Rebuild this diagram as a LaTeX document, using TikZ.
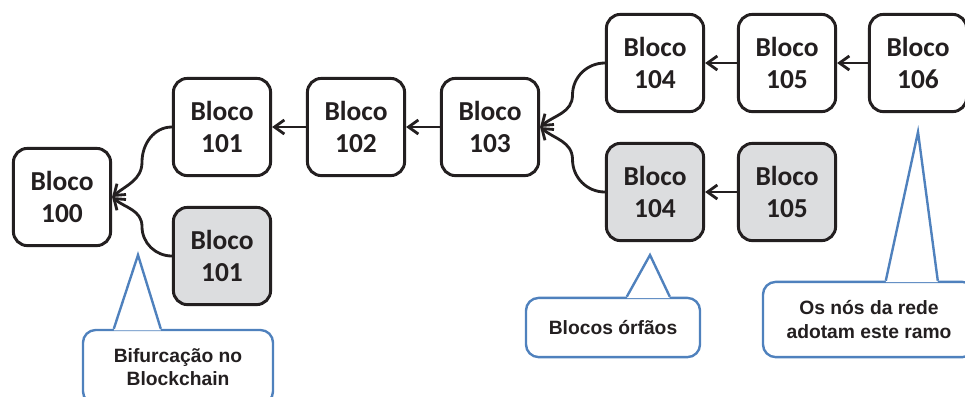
\documentclass[tikz,border=0pt]{standalone}
\usepackage{fontspec}
\setmainfont{Liberation Sans}
\newfontfamily\blocofont{Carlito}
\usepackage{tikz}
\usetikzlibrary{calc}
\usetikzlibrary{arrows.meta}
\tikzset{>={Straight Barb[length=7pt,width=10pt]}}
\definecolor{tinta}{HTML}{231F20}
\definecolor{cinza}{HTML}{DCDDDF}
\definecolor{azul}{HTML}{4F81BD}
\tikzset{
  bloco/.style={draw=tinta,line width=2.1pt,rounded corners=10pt,fill=white,
    minimum width=2.43cm,minimum height=2.43cm,inner sep=0pt,align=center,text=tinta,
    font=\blocofont\bfseries\fontsize{19.5}{22.7}\selectfont},
  orfao/.style={bloco,fill=cinza},
  liga/.style={draw=tinta,line width=2pt,->},
  balao/.style={draw=azul,line width=1.7pt,rounded corners=9pt,fill=white,
    inner sep=0pt,align=center,text=tinta,
    font=\bfseries\fontsize{13.7}{16.6}\selectfont},
  ponta/.style={draw=azul,line width=1.7pt,line join=miter},
}

\begin{document}
\begin{tikzpicture}[x=0.025cm,y=0.025cm]
\useasboundingbox (0,0) rectangle (965,-396);
\node[bloco] (b100) at (62,-197) {Bloco\\100};
\node[bloco] (b101) at (222,-127) {Bloco\\101};
\node[orfao] (b101o) at (222,-256) {Bloco\\101};
\node[bloco] (b102) at (356,-127) {Bloco\\102};
\node[bloco] (b103) at (490,-127) {Bloco\\103};
\node[bloco] (b104) at (655,-63) {Bloco\\104};
\node[bloco] (b105) at (787,-63) {Bloco\\105};
\node[bloco] (b106) at (918,-63) {Bloco\\106};
\node[orfao] (b104o) at (655,-192) {Bloco\\104};
\node[orfao] (b105o) at (787,-192) {Bloco\\105};

\draw[liga] (b102.west) -- (b101.east);
\draw[liga] (b103.west) -- (b102.east);
\draw[liga] (b105.west) -- (b104.east);
\draw[liga] (b106.west) -- (b105.east);
\draw[liga] (b105o.west) -- (b104o.east);
\draw[liga] (b101.west) to[out=180,in=90] ($(b101.west)!0.5!(b100.east)$) to[out=-90,in=40] (b100.east);
\draw[liga] (b101o.west) to[out=180,in=-90] ($(b101o.west)!0.5!(b100.east)$) to[out=90,in=-40] (b100.east);
\draw[liga] (b104.west) to[out=180,in=90] ($(b104.west)!0.5!(b103.east)$) to[out=-90,in=40] (b103.east);
\draw[liga] (b104o.west) to[out=180,in=-90] ($(b104o.west)!0.5!(b103.east)$) to[out=90,in=-40] (b103.east);

\node[balao,minimum width=4.75cm,minimum height=1.85cm] (cbif) at (178,-367) {Bifurcação no\\Blockchain};
\node[balao,minimum width=4.35cm,minimum height=1.48cm] (corf) at (613,-327.5) {Blocos órfãos};
\node[balao,minimum width=5.3cm,minimum height=1.88cm] (crede) at (869,-319.5) {Os nós da rede\\adotam este ramo};

\coordinate (tbif) at (138,-255);
\coordinate (torf) at (650,-255);
\coordinate (trede) at (918,-132);
\fill[white] ($(cbif.north west)+(32,-1.5)$) -- (tbif) -- ($(cbif.north west)+(79,-1.5)$) -- cycle;
\draw[ponta] ($(cbif.north west)+(32,0)$) -- (tbif) -- ($(cbif.north west)+(79,0)$);
\fill[white] ($(corf.north west)+(102,-1.5)$) -- (torf) -- ($(corf.north west)+(145,-1.5)$) -- cycle;
\draw[ponta] ($(corf.north west)+(102,0)$) -- (torf) -- ($(corf.north west)+(145,0)$);
\fill[white] ($(crede.north west)+(124,-1.5)$) -- (trede) -- ($(crede.north west)+(176,-1.5)$) -- cycle;
\draw[ponta] ($(crede.north west)+(124,0)$) -- (trede) -- ($(crede.north west)+(176,0)$);
\end{tikzpicture}
\end{document}
